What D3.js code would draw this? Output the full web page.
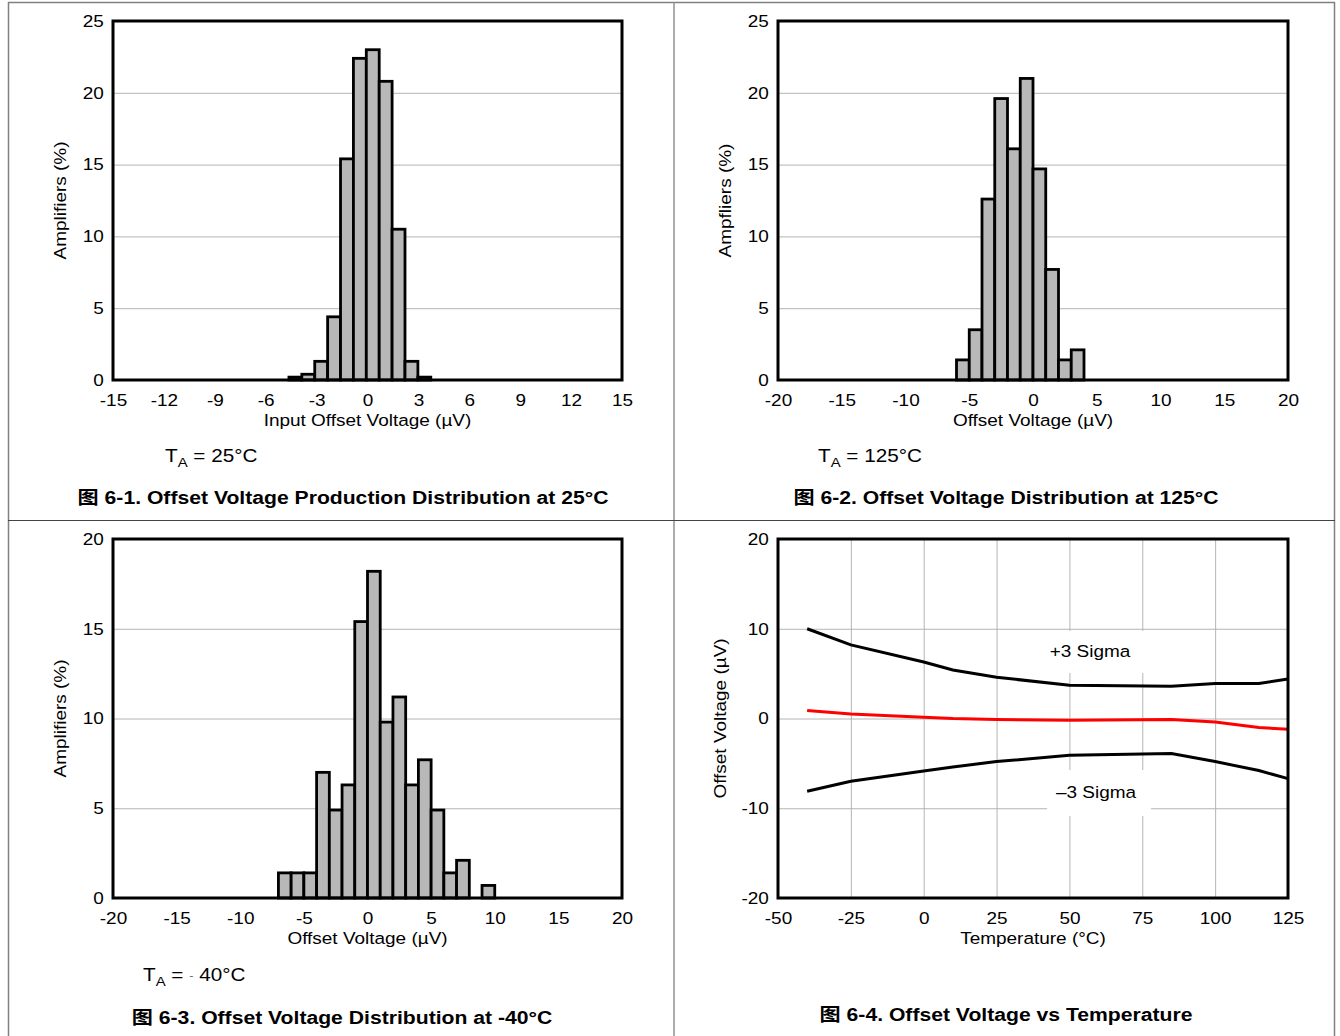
<!DOCTYPE html>
<html><head><meta charset="utf-8">
<script src="https://cdn.jsdelivr.net/npm/d3@7"></script>
<style>
html,body{margin:0;padding:0;background:#fff;}
svg text{font-family:"Liberation Sans",Arial,"Noto Sans CJK SC",sans-serif;fill:#000;}
</style></head><body>
<svg id="c" width="1340" height="1036"></svg>
<script>
// ---- Data ----
// Figure 6-1 (25°C): bin start (µV), bin width 0.76 µV, percent of amplifiers
const hist25Start = [-4.63, -3.87, -3.11, -2.35, -1.59, -0.83, -0.07, 0.69, 1.45, 2.21, 2.97];
const hist25Width = 0.76;
const hist25Pct   = [0.2, 0.4, 1.3, 4.4, 15.4, 22.4, 23.0, 20.8, 10.5, 1.3, 0.2];
const hist25XTicks = [-15, -12, -9, -6, -3, 0, 3, 6, 9, 12, 15];
const hist25YTicks = [0, 5, 10, 15, 20, 25];

// Figure 6-2 (125°C)
const hist125Start = [-6, -5, -4, -3, -2, -1, 0, 1, 2, 3];
const hist125Width = 1;
const hist125Pct   = [1.4, 3.5, 12.6, 19.6, 16.1, 21.0, 14.7, 7.7, 1.4, 2.1];
const hist125XTicks = [-20, -15, -10, -5, 0, 5, 10, 15, 20];
const hist125YTicks = [0, 5, 10, 15, 20, 25];

// Figure 6-3 (-40°C)
const histM40Start = [-7, -6, -5, -4, -3, -2, -1, 0, 1, 2, 3, 4, 5, 6, 7, 9];
const histM40Width = 1;
const histM40Pct   = [1.4, 1.4, 1.4, 7.0, 4.9, 6.3, 15.4, 18.2, 9.8, 11.2, 6.3, 7.7, 4.9, 1.4, 2.1, 0.7];
const histM40XTicks = [-20, -15, -10, -5, 0, 5, 10, 15, 20];
const histM40YTicks = [0, 5, 10, 15, 20];

// Figure 6-4: offset voltage vs temperature
const tempPoints   = [-40, -25, 0, 10, 25, 50, 85, 100, 115, 125];
const plus3Sigma   = [10.0, 8.2, 6.3, 5.4, 4.6, 3.7, 3.6, 3.9, 3.9, 4.4];
const median       = [0.9, 0.5, 0.15, 0.0, -0.1, -0.2, -0.1, -0.4, -1.0, -1.2];
const minus3Sigma  = [-8.1, -7.0, -5.85, -5.4, -4.8, -4.1, -3.9, -4.8, -5.8, -6.7];
const tempXTicks   = [-50, -25, 0, 25, 50, 75, 100, 125];
const tempYTicks   = [-20, -10, 0, 10, 20];

const SX = 1.15; // horizontal stretch of the reference lettering
const svg = d3.select("#c");

// ---- cell dividers ----
const frame = svg.append("g");
frame.append("line").attr("x1",8.5).attr("x2",8.5).attr("y1",2).attr("y2",1036).attr("stroke","#808080").attr("stroke-width",1.5);
frame.append("line").attr("x1",1334.5).attr("x2",1334.5).attr("y1",2).attr("y2",1036).attr("stroke","#808080").attr("stroke-width",1.5);
frame.append("line").attr("x1",8).attr("x2",1335).attr("y1",2.5).attr("y2",2.5).attr("stroke","#808080").attr("stroke-width",1.5);
frame.append("line").attr("x1",674).attr("x2",674).attr("y1",2).attr("y2",1036).attr("stroke","#909090").attr("stroke-width",1.5);
frame.append("line").attr("x1",8).attr("x2",1335).attr("y1",520.5).attr("y2",520.5).attr("stroke","#444").attr("stroke-width",1);

// text placed at (x,y) with horizontal stretch
function stext(parent, x, y, size, str, anchor, extra){
  const t = parent.append("text")
    .attr("transform",`translate(${x},${y})${extra||""} scale(${SX},1)`)
    .attr("font-size",size).attr("text-anchor",anchor||"start");
  if (str !== null) t.text(str);
  return t;
}

function panel(o){
  const g = svg.append("g");
  const x = d3.scaleLinear().domain(o.xDomain).range([o.left, o.right]);
  const y = d3.scaleLinear().domain(o.yDomain).range([o.bottom, o.top]);
  const gy = g.append("g").attr("transform",`translate(${o.left},0)`)
    .call(d3.axisLeft(y).tickValues(o.yTicks).tickSize(-(o.right-o.left)).tickFormat(""));
  gy.select(".domain").remove();
  gy.selectAll("line").attr("stroke","#b4b4b4").attr("stroke-width",1);
  if (o.vGrid) {
    const gx = g.append("g").attr("transform",`translate(0,${o.bottom})`)
      .call(d3.axisBottom(x).tickValues(o.xTicks).tickSize(-(o.bottom-o.top)).tickFormat(""));
    gx.select(".domain").remove();
    gx.selectAll("line").attr("stroke","#b4b4b4").attr("stroke-width",1);
  }
  const fmt = d => String(d);
  const yl = g.append("g").attr("transform",`translate(${o.left},0)`)
    .call(d3.axisLeft(y).tickValues(o.yTicks).tickSize(0).tickPadding(8).tickFormat(fmt));
  yl.select(".domain").remove();
  yl.selectAll("text").attr("font-size",16.5).attr("font-family",null).attr("transform",`scale(${SX},1)`);
  const xl = g.append("g").attr("transform",`translate(0,${o.bottom})`)
    .call(d3.axisBottom(x).tickValues(o.xTicks).tickSize(0).tickPadding(14).tickFormat(fmt));
  xl.select(".domain").remove();
  xl.selectAll("text").attr("font-size",16.5).attr("font-family",null).attr("transform",`scale(${SX},1)`);
  stext(g,(o.left+o.right)/2,o.bottom+46,16.5,o.xTitle,"middle");
  stext(g,o.yTitleX,(o.top+o.bottom)/2,16.5,o.yTitle,"middle"," rotate(-90)");
  return {g,x,y};
}

function frameBox(g,o){
  g.append("rect").attr("x",o.left).attr("y",o.top).attr("width",o.right-o.left).attr("height",o.bottom-o.top)
    .attr("fill","none").attr("stroke","#000").attr("stroke-width",3);
}

function histogram(o, starts, width, pct){
  const {g,x,y} = panel(o);
  g.append("g").selectAll("rect").data(starts.map((s,i)=>({s,v:pct[i]}))).join("rect")
    .attr("x",d=>x(d.s)).attr("width",d=>x(d.s+width)-x(d.s))
    .attr("y",d=>y(d.v)).attr("height",d=>y(0)-y(d.v))
    .attr("fill","#b8b8b8").attr("stroke","#000").attr("stroke-width",2.8);
  frameBox(g,o);
  return g;
}

function taLabel(x0,y0,rest){
  const t = stext(svg,x0,y0,18,null,"start");
  t.append("tspan").text("T");
  t.append("tspan").attr("font-size",13).attr("dy",5).text("A");
  t.append("tspan").attr("dy",-5).text(rest);
  return t;
}
function figTitle(cx,y0,txt){
  stext(svg,cx,y0,18.4,txt,"middle").attr("font-weight","bold");
}

// ---- Figure 6-1 ----
histogram({left:113,right:622,top:21,bottom:380,xDomain:[-15,15],yDomain:[0,25],
  xTicks:hist25XTicks,yTicks:hist25YTicks,xTitle:"Input Offset Voltage (µV)",yTitle:"Amplifiers (%)",yTitleX:66},
  hist25Start,hist25Width,hist25Pct);
taLabel(165,462," = 25°C");
figTitle(343,504,"图 6-1. Offset Voltage Production Distribution at 25°C");

// ---- Figure 6-2 ----
histogram({left:778,right:1288,top:21,bottom:380,xDomain:[-20,20],yDomain:[0,25],
  xTicks:hist125XTicks,yTicks:hist125YTicks,xTitle:"Offset Voltage (µV)",yTitle:"Ampfliers (%)",yTitleX:731},
  hist125Start,hist125Width,hist125Pct);
taLabel(818,462," = 125°C");
figTitle(1006,504,"图 6-2. Offset Voltage Distribution at 125°C");

// ---- Figure 6-3 ----
histogram({left:113,right:622,top:539,bottom:898,xDomain:[-20,20],yDomain:[0,20],
  xTicks:histM40XTicks,yTicks:histM40YTicks,xTitle:"Offset Voltage (µV)",yTitle:"Amplifiers (%)",yTitleX:66},
  histM40Start,histM40Width,histM40Pct);
{
  const t = taLabel(143,981," = ");
  t.append("tspan").attr("font-size",11).attr("fill","#666").attr("dy",-2).text(" -");
  t.append("tspan").attr("dy",2).text(" 40°C");
}
figTitle(342,1024,"图 6-3. Offset Voltage Distribution at -40°C");

// ---- Figure 6-4 ----
{
  const o = {left:778,right:1288,top:539,bottom:898,xDomain:[-50,125],yDomain:[-20,20],
    xTicks:tempXTicks,yTicks:tempYTicks,xTitle:"Temperature (°C)",yTitle:"Offset Voltage (µV)",yTitleX:726,vGrid:true};
  const {g,x,y} = panel(o);
  g.append("rect").attr("x",1040).attr("y",631).attr("width",106).attr("height",42).attr("fill","#fff");
  g.append("rect").attr("x",1047).attr("y",770).attr("width",104).attr("height",46).attr("fill","#fff");
  const line = d3.line().x((d,i)=>x(tempPoints[i])).y(d=>y(d));
  g.append("path").attr("d",line(plus3Sigma)).attr("fill","none").attr("stroke","#000").attr("stroke-width",3);
  g.append("path").attr("d",line(minus3Sigma)).attr("fill","none").attr("stroke","#000").attr("stroke-width",3);
  g.append("path").attr("d",line(median)).attr("fill","none").attr("stroke","#ff0000").attr("stroke-width",3);
  stext(g,1090,657,16.5,"+3 Sigma","middle");
  stext(g,1096,798,16.5,"–3 Sigma","middle");
  frameBox(g,o);
}
figTitle(1006,1021,"图 6-4. Offset Voltage vs Temperature");
</script>
</body></html>
